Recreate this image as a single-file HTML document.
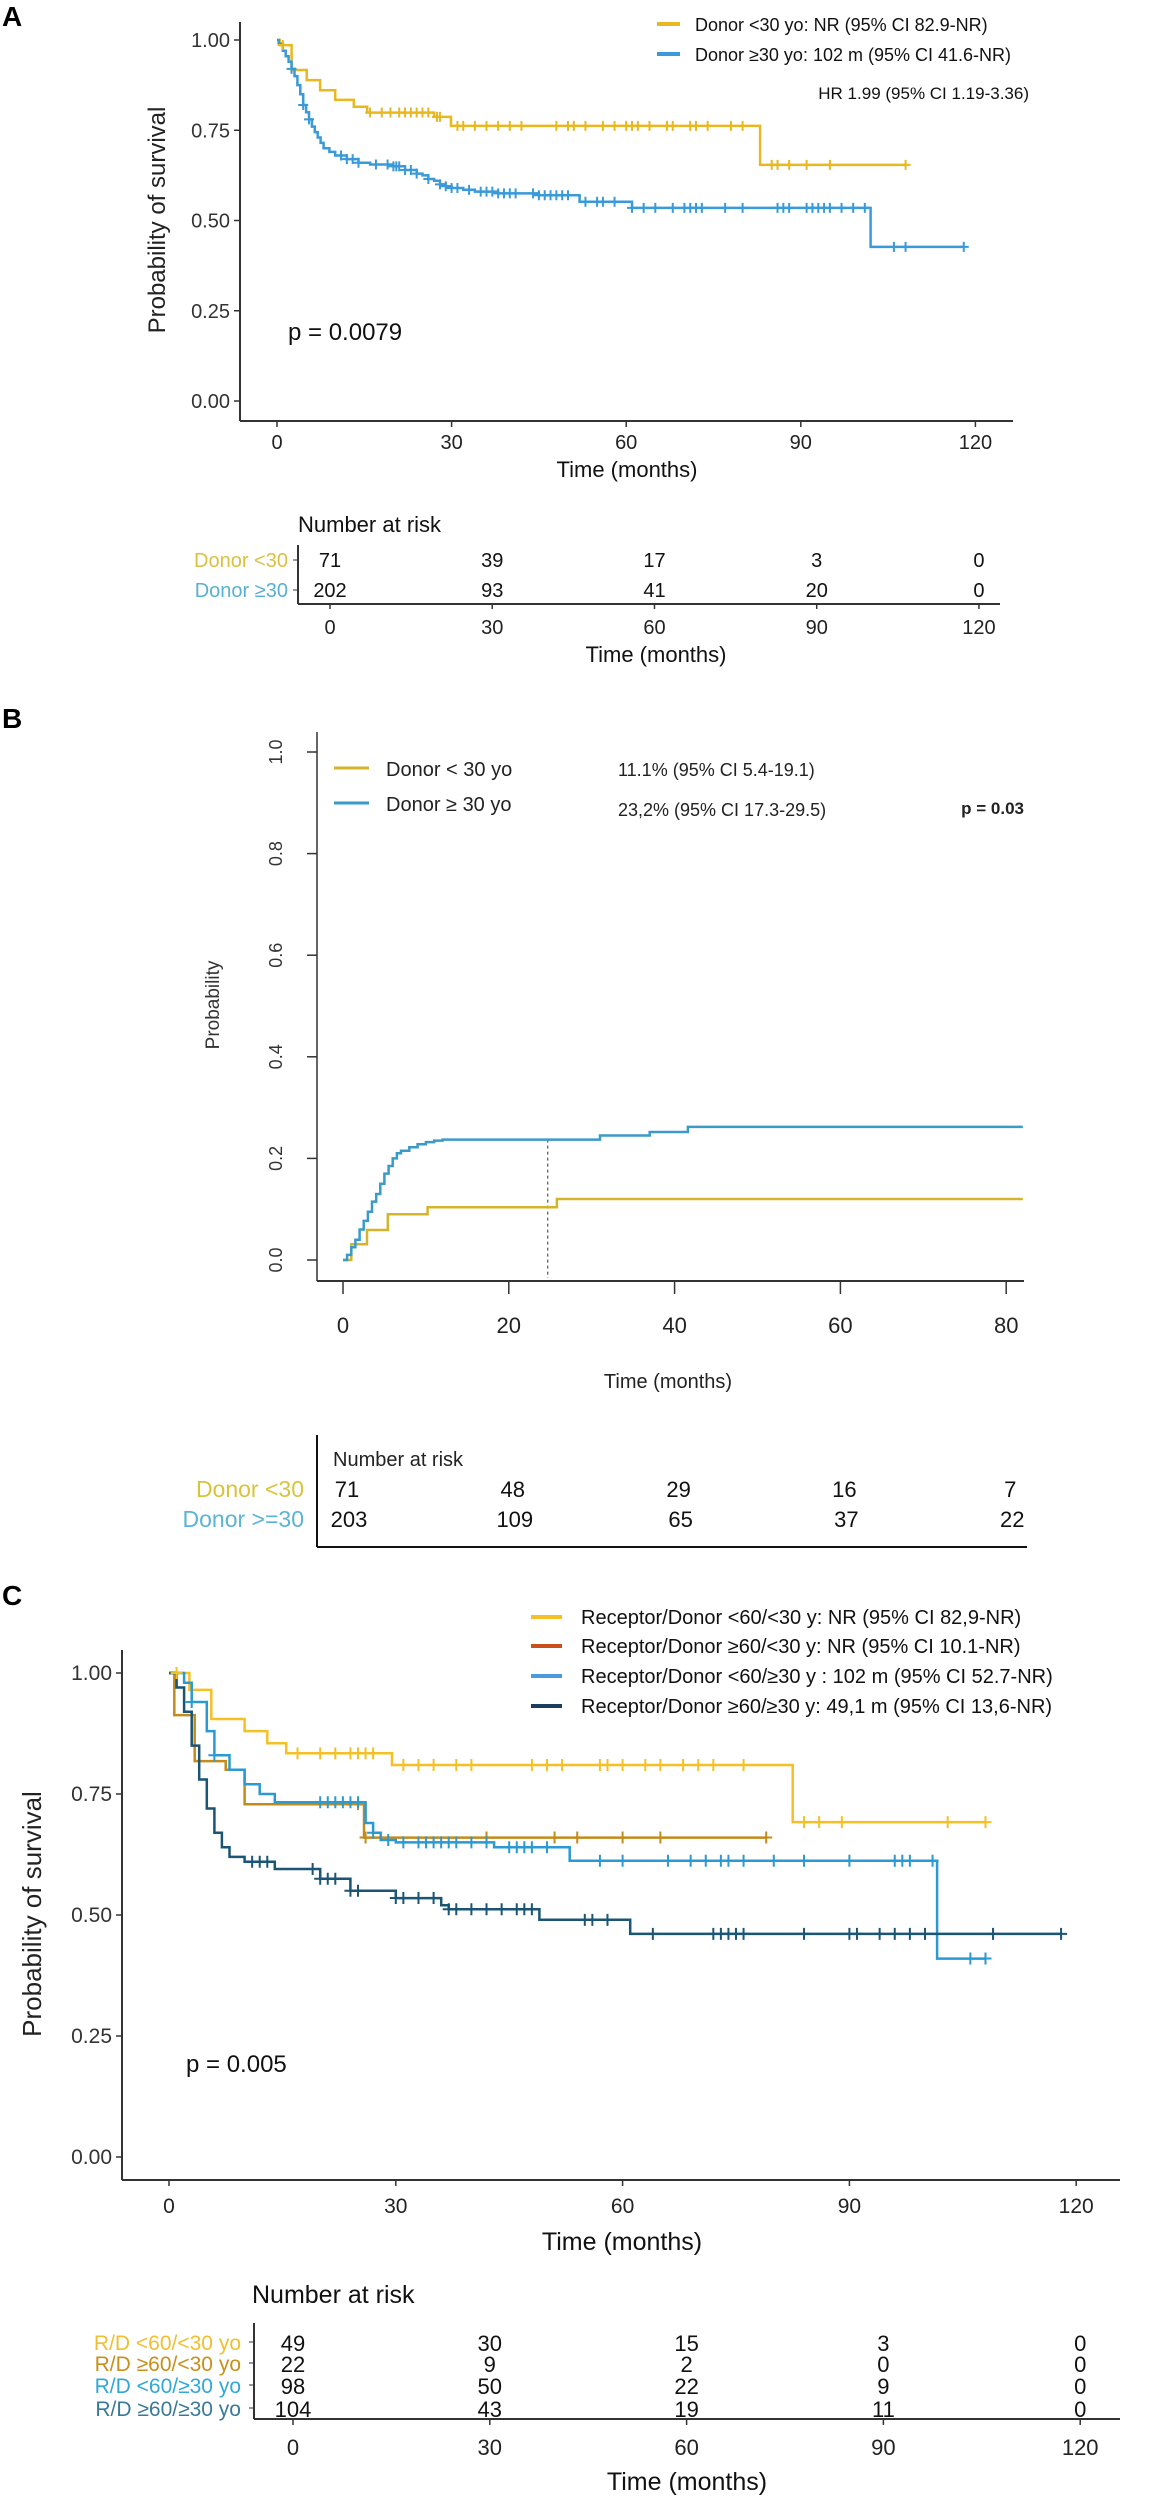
<!DOCTYPE html>
<html><head><meta charset="utf-8">
<style>
html,body{margin:0;padding:0;background:#fff;}
svg{display:block;font-family:"Liberation Sans",Arial,sans-serif;}
</style></head>
<body>
<svg id="fig" width="1164" height="2500" viewBox="0 0 1164 2500" xmlns="http://www.w3.org/2000/svg">
<rect width="1164" height="2500" fill="#fff"/>
<!-- Panel letters -->
<text x="2" y="26" font-size="28" font-weight="bold">A</text>
<text x="2" y="728" font-size="28" font-weight="bold">B</text>
<text x="2" y="1605" font-size="28" font-weight="bold">C</text>

<!-- ===== Panel A ===== -->
<g>
<line x1="240" y1="22" x2="240" y2="421" stroke="#333" stroke-width="2"/>
<line x1="240" y1="421" x2="1013" y2="421" stroke="#333" stroke-width="2"/>
<g id="a-axes"></g>
<text x="165" y="220" font-size="24" fill="#222" text-anchor="middle" transform="rotate(-90 165 220)">Probability of survival</text>
<text x="627" y="477" font-size="22" fill="#111" text-anchor="middle">Time (months)</text>
<text x="288" y="340" font-size="24" fill="#111">p = 0.0079</text>
<line x1="657" y1="24" x2="680" y2="24" stroke="#E8B820" stroke-width="4"/>
<text x="695" y="31" font-size="18" fill="#111">Donor &lt;30 yo: NR (95% CI 82.9-NR)</text>
<line x1="657" y1="54" x2="680" y2="54" stroke="#3A9AD9" stroke-width="4"/>
<text x="695" y="61" font-size="18" fill="#111">Donor ≥30 yo: 102 m (95% CI 41.6-NR)</text>
<text x="1029" y="99" font-size="17" fill="#111" text-anchor="end">HR 1.99 (95% CI 1.19-3.36)</text>
<g id="a-curves"></g>
<!-- table A -->
<text x="298" y="532" font-size="22" fill="#111">Number at risk</text>
<line x1="298" y1="545" x2="298" y2="604" stroke="#333" stroke-width="2"/>
<line x1="298" y1="604" x2="1000" y2="604" stroke="#333" stroke-width="2"/>
<line x1="293" y1="560" x2="298" y2="560" stroke="#333"/>
<line x1="293" y1="590" x2="298" y2="590" stroke="#333"/>
<text x="288" y="567" font-size="20" fill="#DCC040" text-anchor="end">Donor &lt;30</text>
<text x="288" y="597" font-size="20" fill="#5AB0D0" text-anchor="end">Donor ≥30</text>
<g id="a-table"></g>
<text x="656" y="662" font-size="22" fill="#111" text-anchor="middle">Time (months)</text>
</g>

<!-- ===== Panel B ===== -->
<g>
<line x1="317" y1="732" x2="317" y2="1281" stroke="#333" stroke-width="1.5"/>
<line x1="317" y1="1281" x2="1024" y2="1281" stroke="#333" stroke-width="2"/>
<g id="b-axes"></g>
<text x="219" y="1005" font-size="19" fill="#333" text-anchor="middle" transform="rotate(-90 219 1005)">Probability</text>
<text x="668" y="1388" font-size="20" fill="#222" text-anchor="middle">Time (months)</text>
<line x1="334" y1="768" x2="369" y2="768" stroke="#D4B52A" stroke-width="3"/>
<text x="386" y="776" font-size="20" fill="#222">Donor &lt; 30 yo</text>
<line x1="334" y1="803" x2="369" y2="803" stroke="#3A9AC8" stroke-width="3"/>
<text x="386" y="811" font-size="20" fill="#222">Donor ≥ 30 yo</text>
<text x="618" y="776" font-size="18" fill="#222">11.1% (95% CI 5.4-19.1)</text>
<text x="618" y="816" font-size="18" fill="#222">23,2% (95% CI 17.3-29.5)</text>
<text x="1024" y="814" font-size="17" font-weight="bold" fill="#222" text-anchor="end">p = 0.03</text>
<g id="b-curves"></g>
<text x="333" y="1466" font-size="20" fill="#222">Number at risk</text>
<line x1="317" y1="1435" x2="317" y2="1547" stroke="#111" stroke-width="2"/>
<line x1="317" y1="1547" x2="1027" y2="1547" stroke="#111" stroke-width="2"/>
<text x="304" y="1497" font-size="23" fill="#D8C43A" text-anchor="end">Donor &lt;30</text>
<text x="304" y="1527" font-size="23" fill="#5AB4D6" text-anchor="end">Donor &gt;=30</text>
<g id="b-table"></g>
</g>

<!-- ===== Panel C ===== -->
<g>
<line x1="122" y1="1650" x2="122" y2="2180" stroke="#333" stroke-width="2"/>
<line x1="122" y1="2180" x2="1120" y2="2180" stroke="#333" stroke-width="2"/>
<g id="c-axes"></g>
<text x="41" y="1914" font-size="26" fill="#222" text-anchor="middle" transform="rotate(-90 41 1914)">Probability of survival</text>
<text x="622" y="2250" font-size="25" fill="#111" text-anchor="middle">Time (months)</text>
<text x="186" y="2072" font-size="24" fill="#111">p = 0.005</text>
<g id="c-legend"></g>
<g id="c-curves"></g>
<text x="252" y="2303" font-size="25" fill="#111">Number at risk</text>
<line x1="254" y1="2323" x2="254" y2="2419" stroke="#333" stroke-width="2"/>
<line x1="254" y1="2419" x2="1120" y2="2419" stroke="#333" stroke-width="2"/>
<g id="c-table"></g>
<text x="687" y="2490" font-size="25" fill="#111" text-anchor="middle">Time (months)</text>
</g>
</svg>
<script>
// ---------- Panel A data ----------
var aTicksX = [0, 30, 60, 90, 120];
var aTicksY = [0, 0.25, 0.5, 0.75, 1];
var aTickLabelsY = ["0.00", "0.25", "0.50", "0.75", "1.00"];
var aYoungTimes = [0.5, 2.5, 5.1, 7.4, 10, 13.2, 15.5, 27, 29.9, 83];
var aYoungSurv = [0.986, 0.917, 0.889, 0.861, 0.834, 0.815, 0.799, 0.787, 0.762, 0.654];
var aYoungEnd = 108;
var aYoungCens = [1, 16, 18, 19.5, 21, 22, 23, 24, 25, 26, 27.5, 28, 31, 32, 34, 36, 38, 40, 42, 48, 50, 51, 53, 56, 58, 60, 61, 62, 64, 67, 68, 71, 72, 74, 78, 80, 85, 86, 88, 91, 95, 108];
var aOldTimes = [0.3, 1, 1.5, 2, 2.5, 3, 3.5, 4, 4.5, 5, 5.5, 6, 6.5, 7, 7.5, 8, 9, 10, 12, 14, 16, 20, 22, 24, 25, 26, 27, 28, 29, 30, 32, 34, 38, 45, 52, 61, 102];
var aOldSurv = [0.99, 0.97, 0.955, 0.94, 0.92, 0.9, 0.875, 0.85, 0.82, 0.8, 0.78, 0.76, 0.745, 0.73, 0.715, 0.7, 0.69, 0.68, 0.67, 0.66, 0.655, 0.65, 0.64, 0.63, 0.625, 0.615, 0.61, 0.6, 0.595, 0.59, 0.585, 0.58, 0.575, 0.57, 0.552, 0.535, 0.427];
var aOldEnd = 118;
var aOldCens = [2.5, 4.5, 5.5, 11, 12, 13, 14, 17, 19, 20, 20.5, 21, 22, 23, 24, 26, 28, 29, 30, 31, 33, 35, 36, 37, 38, 39, 40, 41, 44, 45, 46, 47, 48, 49, 50, 53, 55, 56, 58, 61, 63, 65, 68, 70, 71, 72, 73, 77, 80, 86, 87, 88, 91, 92, 93, 94, 95, 97, 99, 101, 106, 108, 118];
var aRiskYoung = [71, 39, 17, 3, 0];
var aRiskOld = [202, 93, 41, 20, 0];

// ---------- Panel B data ----------
var bTicksX = [0, 20, 40, 60, 80];
var bTicksY = [0, 0.2, 0.4, 0.6, 0.8, 1.0];
var bTickLabelsY = ["0.0", "0.2", "0.4", "0.6", "0.8", "1.0"];
var bYoungTimes = [1, 2.9, 5.4, 10.2, 25.8];
var bYoungInc = [0.031, 0.059, 0.09, 0.104, 0.12];
var bOldTimes = [0.5, 1, 1.5, 2, 2.5, 3, 3.5, 4, 4.5, 5, 5.5, 6, 6.5, 7, 8, 9, 10, 11, 12, 31, 37, 41.6];
var bOldInc = [0.01, 0.025, 0.04, 0.06, 0.077, 0.095, 0.115, 0.13, 0.15, 0.17, 0.185, 0.2, 0.21, 0.215, 0.222, 0.228, 0.232, 0.235, 0.237, 0.245, 0.252, 0.262];
var bEnd = 82;
var bMarkerTime = 24.7;
var bRiskYoung = [71, 48, 29, 16, 7];
var bRiskOld = [203, 109, 65, 37, 22];

// ---------- Panel C data ----------
var cTicksX = [0, 30, 60, 90, 120];
var cTicksY = [0, 0.25, 0.5, 0.75, 1];
var cTickLabelsY = ["0.00", "0.25", "0.50", "0.75", "1.00"];
var c1Times = [2.7, 5.6, 10, 13, 15.5, 29.5, 82.5];
var c1Surv = [0.965, 0.905, 0.88, 0.855, 0.834, 0.81, 0.692];
var c1Cens = [1, 17, 20, 22, 24, 25, 26, 27, 31, 33, 35, 38, 40, 48, 50, 52, 57, 58, 60, 63, 65, 68, 70, 72, 76, 84, 86, 89, 103, 108];
var c1End = 108;
var c2Times = [0.7, 3.4, 7.5, 10, 25.8];
var c2Surv = [0.913, 0.818, 0.8, 0.729, 0.66];
var c2Cens = [25, 26, 42, 51, 54, 60, 65, 79];
var c2End = 79;
var c3Times = [2, 3, 5, 6, 8, 10, 12, 14, 26, 27, 28, 30, 43, 53, 101.6];
var c3Surv = [0.98, 0.94, 0.88, 0.83, 0.8, 0.77, 0.75, 0.733, 0.69, 0.67, 0.655, 0.65, 0.64, 0.612, 0.41];
var c3Cens = [3, 6, 20, 21, 22, 23, 24, 25, 27, 29, 31, 33, 34, 35, 36, 37, 38, 40, 42, 45, 46, 47, 48, 50, 57, 60, 66, 69, 71, 73, 74, 76, 80, 84, 90, 96, 97, 98, 101, 106, 108];
var c3End = 108;
var c4Times = [1, 2, 3, 4, 5, 6, 7, 8, 10, 14, 20, 24, 30, 36, 37, 49, 61];
var c4Surv = [0.97, 0.92, 0.85, 0.78, 0.72, 0.67, 0.64, 0.62, 0.61, 0.595, 0.575, 0.55, 0.535, 0.52, 0.512, 0.49, 0.461];
var c4Cens = [11, 12, 13, 19, 20, 21, 22, 24, 25, 30, 31, 33, 35, 37, 38, 40, 42, 44, 46, 47, 48, 55, 56, 58, 64, 72, 73, 74, 75, 76, 84, 90, 91, 94, 96, 98, 100, 109, 118];
var c4End = 118;
var cLegendLabels = ["Receptor/Donor <60/<30 y: NR (95% CI 82,9-NR)", "Receptor/Donor \u226560/<30 y: NR (95% CI 10.1-NR)", "Receptor/Donor <60/\u226530 y : 102 m (95% CI 52.7-NR)", "Receptor/Donor \u226560/\u226530 y: 49,1 m (95% CI 13,6-NR)"];
var cRiskLabels = ["R/D <60/<30 yo", "R/D \u226560/<30 yo", "R/D <60/\u226530 yo", "R/D \u226560/\u226530 yo"];
var cRisk1 = [49, 30, 15, 3, 0];
var cRisk2 = [22, 9, 2, 0, 0];
var cRisk3 = [98, 50, 22, 9, 0];
var cRisk4 = [104, 43, 19, 11, 0];

var NS = "http://www.w3.org/2000/svg";
function mk(tag, attrs, parent) {
  var e = document.createElementNS(NS, tag);
  for (var k in attrs) e.setAttribute(k, attrs[k]);
  parent.appendChild(e);
  return e;
}
function axis(x0, xs, y0, ys) {
  return { x: function (t) { return x0 + t * xs; }, y: function (v) { return y0 - v * ys; } };
}
function stepPath(ax, times, vals, start, end) {
  var d = "M" + ax.x(0) + "," + ax.y(start);
  for (var i = 0; i < times.length; i++) {
    d += " H" + ax.x(times[i]).toFixed(1) + " V" + ax.y(vals[i]).toFixed(1);
  }
  d += " H" + ax.x(end).toFixed(1);
  return d;
}
function valueAt(times, vals, start, t) {
  var v = start;
  for (var i = 0; i < times.length; i++) { if (times[i] <= t) v = vals[i]; }
  return v;
}
function drawCurve(g, ax, times, vals, start, end, color, name, w) {
  var p = mk("path", { d: stepPath(ax, times, vals, start, end), fill: "none", stroke: color, "stroke-width": w || 2.5 }, g);
  
  
}
function drawCens(g, ax, times, vals, start, cens, color, name, h) {
  for (var i = 0; i < cens.length; i++) {
    var cx = ax.x(cens[i]), cy = ax.y(valueAt(times, vals, start, cens[i]));
    var m = mk("path", { d: "M" + (cx - h) + "," + cy + " H" + (cx + h) + " M" + cx + "," + (cy - h) + " V" + (cy + h), stroke: color, "stroke-width": 2, fill: "none" }, g);
    
    
  }
}
function xTicks(g, ax, ticks, yAxis, len, labelY, size, prefix) {
  for (var i = 0; i < ticks.length; i++) {
    var x = ax.x(ticks[i]);
    mk("line", { x1: x, y1: yAxis, x2: x, y2: yAxis + len, stroke: "#333", "stroke-width": 1.5 }, g);
    var t = mk("text", { x: x, y: labelY, "font-size": size, "text-anchor": "middle", fill: "#222" }, g);
    t.textContent = ticks[i];
    
    
  }
}
function yTicks(g, ax, ticks, labels, xAxis, len, labelX, size, prefix) {
  for (var i = 0; i < ticks.length; i++) {
    var y = ax.y(ticks[i]);
    mk("line", { x1: xAxis - len, y1: y, x2: xAxis, y2: y, stroke: "#333", "stroke-width": 1.5 }, g);
    var t = mk("text", { x: labelX, y: y + 7, "font-size": size, "text-anchor": "end", fill: "#333" }, g);
    t.textContent = labels[i];
    
    
  }
}
function riskRow(g, xs, vals, y, size, prefix) {
  for (var i = 0; i < vals.length; i++) {
    var t = mk("text", { x: xs(i), y: y, "font-size": size, "text-anchor": "middle", fill: "#111" }, g);
    t.textContent = vals[i];
    
    
  }
}

// ---- Panel A ----
(function () {
  var ax = axis(277, 5.82, 401, 361);
  var ga = document.getElementById("a-axes");
  xTicks(ga, ax, aTicksX, 421, 6, 449, 20, "a");
  yTicks(ga, ax, aTicksY, aTickLabelsY, 240, 6, 230, 20, "a");
  var g = document.getElementById("a-curves");
  drawCurve(g, ax, aYoungTimes, aYoungSurv, 1, aYoungEnd, "#E8B820", "a-curve-donor-under-30");
  drawCurve(g, ax, aOldTimes, aOldSurv, 1, aOldEnd, "#3A9AD9", "a-curve-donor-30-plus");
  drawCens(g, ax, aYoungTimes, aYoungSurv, 1, aYoungCens, "#E8B820", "a-censor-mark-young", 5);
  drawCens(g, ax, aOldTimes, aOldSurv, 1, aOldCens, "#3A9AD9", "a-censor-mark-old", 5);
  var tx = axis(330, 5.408, 0, 0);
  var gt = document.getElementById("a-table");
  riskRow(gt, function (i) { return tx.x(aTicksX[i]); }, aRiskYoung, 567, 20, "a-young");
  riskRow(gt, function (i) { return tx.x(aTicksX[i]); }, aRiskOld, 597, 20, "a-old");
  xTicks(gt, tx, aTicksX, 604, 5, 634, 20, "a-risk");
})();

// ---- Panel B ----
(function () {
  var ax = axis(343, 8.29, 1260, 508);
  var ga = document.getElementById("b-axes");
  xTicks(ga, ax, bTicksX, 1281, 13, 1333, 22, "b");
  for (var i = 0; i < bTicksY.length; i++) {
    var y = ax.y(bTicksY[i]);
    mk("line", { x1: 307, y1: y, x2: 317, y2: y, stroke: "#333", "stroke-width": 1.5 }, ga);
    var t = mk("text", { x: 282, y: y, "font-size": 18, "text-anchor": "middle", fill: "#333", transform: "rotate(-90 282 " + y + ")" }, ga);
    t.textContent = bTickLabelsY[i];
    
    
  }
  var g = document.getElementById("b-curves");
  var dl = mk("line", { x1: ax.x(bMarkerTime), y1: ax.y(valueAt(bOldTimes, bOldInc, 0, bMarkerTime)), x2: ax.x(bMarkerTime), y2: 1278, stroke: "#333", "stroke-width": 1, "stroke-dasharray": "3,3" }, g);
  
  
  drawCurve(g, ax, bYoungTimes, bYoungInc, 0, bEnd, "#D4B52A", "b-curve-donor-under-30", 2.5);
  drawCurve(g, ax, bOldTimes, bOldInc, 0, bEnd, "#3A9AC8", "b-curve-donor-30-plus", 2.5);
  var gt = document.getElementById("b-table");
  riskRow(gt, function (i) { return ax.x(bTicksX[i]) + 4; }, bRiskYoung, 1497, 22, "b-young");
  riskRow(gt, function (i) { return ax.x(bTicksX[i]) + 6; }, bRiskOld, 1527, 22, "b-old");
})();

// ---- Panel C ----
(function () {
  var ax = axis(169, 7.56, 2157, 484);
  var ga = document.getElementById("c-axes");
  xTicks(ga, ax, cTicksX, 2180, 6, 2213, 21, "c");
  yTicks(ga, ax, cTicksY, cTickLabelsY, 122, 6, 112, 21, "c");
  var colors = ["#F5C026", "#C48A1A", "#2A9AD0", "#1A5574"];
  var legColors = ["#F5C026", "#C8501A", "#4A9AE0", "#1A3F5E"];
  var gl = document.getElementById("c-legend");
  var ly = [1617, 1646, 1676, 1706];
  for (var i = 0; i < 4; i++) {
    var s = mk("line", { x1: 531, y1: ly[i], x2: 562, y2: ly[i], stroke: legColors[i], "stroke-width": 4 }, gl);
    
    
    var t = mk("text", { x: 581, y: ly[i] + 7, "font-size": 20, fill: "#111" }, gl);
    t.textContent = cLegendLabels[i];
    
    
  }
  var g = document.getElementById("c-curves");
  drawCurve(g, ax, c1Times, c1Surv, 1, c1End, colors[0], "c-curve-lt60-lt30");
  drawCurve(g, ax, c2Times, c2Surv, 1, c2End, colors[1], "c-curve-ge60-lt30");
  drawCurve(g, ax, c3Times, c3Surv, 1, c3End, colors[2], "c-curve-lt60-ge30");
  drawCurve(g, ax, c4Times, c4Surv, 1, c4End, colors[3], "c-curve-ge60-ge30");
  drawCens(g, ax, c1Times, c1Surv, 1, c1Cens, colors[0], "c-censor-mark", 6);
  drawCens(g, ax, c2Times, c2Surv, 1, c2Cens, colors[1], "c-censor-mark", 6);
  drawCens(g, ax, c3Times, c3Surv, 1, c3Cens, colors[2], "c-censor-mark", 6);
  drawCens(g, ax, c4Times, c4Surv, 1, c4Cens, colors[3], "c-censor-mark", 6);
  var gt = document.getElementById("c-table");
  var tx = axis(293, 6.56, 0, 0);
  var rowY = [2342, 2363, 2385, 2408];
  var rows = [cRisk1, cRisk2, cRisk3, cRisk4];
  var labColors = ["#F0C030", "#C8901A", "#30A8D8", "#3A7A98"];
  for (var r = 0; r < 4; r++) {
    mk("line", { x1: 249, y1: rowY[r], x2: 254, y2: rowY[r], stroke: "#333" }, gt);
    var l = mk("text", { x: 241, y: rowY[r] + 8, "font-size": 21, "text-anchor": "end", fill: labColors[r] }, gt);
    l.textContent = cRiskLabels[r];
    
    
    riskRow(gt, function (i) { return tx.x(cTicksX[i]); }, rows[r], rowY[r] + 9, 22, "c");
  }
  xTicks(gt, tx, cTicksX, 2419, 6, 2455, 22, "c-risk");
})();
</script>
</body></html>
